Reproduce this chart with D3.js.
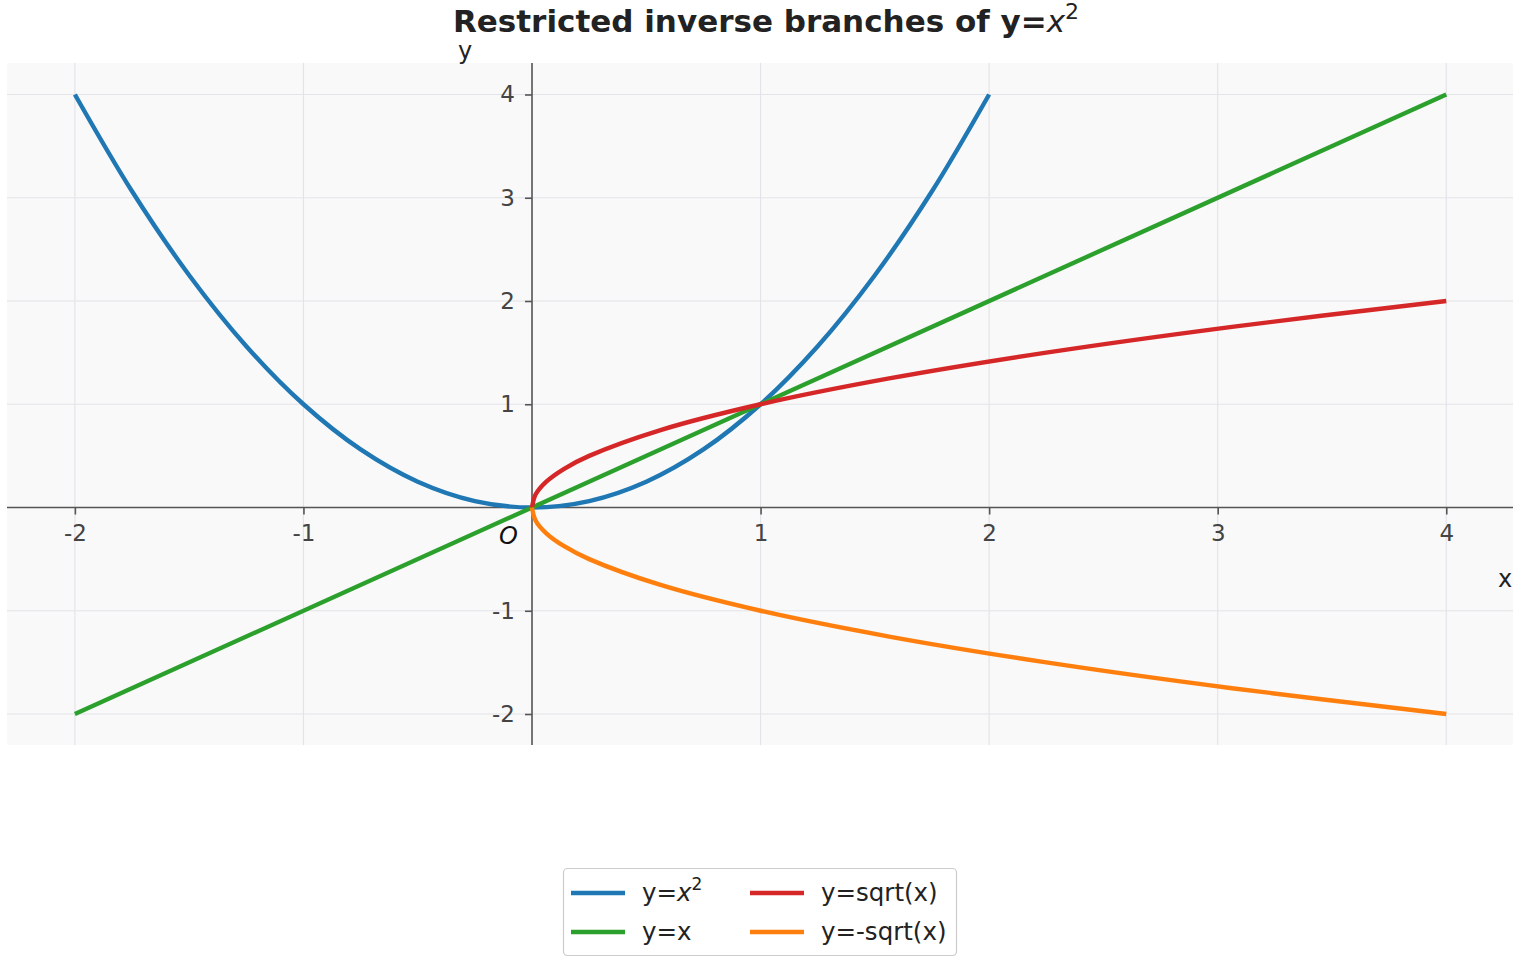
<!DOCTYPE html>
<html>
<head>
<meta charset="utf-8">
<script src="https://cdn.jsdelivr.net/npm/d3@7"></script>
<style>
  body { margin: 0; background: #fff; }
  text { font-family: "DejaVu Sans", sans-serif; }
</style>
</head>
<body>
<svg id="chart" width="1520" height="960"></svg>
<script>
// values
var xTicks = [-2, -1, 1, 2, 3, 4];
var yTicks = [-2, -1, 1, 2, 3, 4];

var parabolaX = [-2, -1.75, -1.5, -1.25, -1, -0.75, -0.5, -0.25, 0, 0.25, 0.5, 0.75, 1, 1.25, 1.5, 1.75, 2];
var parabolaY = [4, 3.0625, 2.25, 1.5625, 1, 0.5625, 0.25, 0.0625, 0, 0.0625, 0.25, 0.5625, 1, 1.5625, 2.25, 3.0625, 4];

var identityX = [-2, 4];
var identityY = [-2, 4];

var sqrtX = [0, 0.015625, 0.0625, 0.140625, 0.25, 0.5625, 1, 1.5625, 2.25, 3.0625, 4];
var sqrtY = [0, 0.125, 0.25, 0.375, 0.5, 0.75, 1, 1.25, 1.5, 1.75, 2];
var negSqrtY = [0, -0.125, -0.25, -0.375, -0.5, -0.75, -1, -1.25, -1.5, -1.75, -2];

var seriesColors = ["#1f77b4", "#2ca02c", "#d62728", "#ff7f0e"];
var legendLabels = [null, "y=x", "y=sqrt(x)", "y=-sqrt(x)"];

var svg = d3.select("#chart");

var plot = { left: 7, top: 63, right: 1513, bottom: 745 };

var xScale = d3.scaleLinear()
    .domain([-2.297, 4.292])
    .range([plot.left, plot.right]);

var yScale = d3.scaleLinear()
    .domain([-2.30, 4.305])
    .range([plot.bottom, plot.top]);

// background
svg.append("rect")
    .attr("x", plot.left).attr("y", plot.top)
    .attr("width", plot.right - plot.left)
    .attr("height", plot.bottom - plot.top)
    .attr("fill", "#f9f9f9");

// grid
var grid = svg.append("g").attr("class", "grid");
grid.selectAll("line.gx")
    .data(xTicks)
    .enter().append("line")
    .attr("x1", d => xScale(d)).attr("x2", d => xScale(d))
    .attr("y1", plot.top).attr("y2", plot.bottom)
    .attr("stroke", "#e3e4ea").attr("stroke-width", 1.2);
grid.selectAll("line.gy")
    .data(yTicks)
    .enter().append("line")
    .attr("y1", d => yScale(d)).attr("y2", d => yScale(d))
    .attr("x1", plot.left).attr("x2", plot.right)
    .attr("stroke", "#e3e4ea").attr("stroke-width", 1.2);

// axes through origin
var axisBottom = d3.axisBottom(xScale)
    .tickValues(xTicks)
    .tickSize(7)
    .tickPadding(9)
    .tickFormat(d => String(d));

var axisLeft = d3.axisLeft(yScale)
    .tickValues(yTicks)
    .tickSize(7)
    .tickPadding(10)
    .tickFormat(d => String(d));

var gx = svg.append("g")
    .attr("transform", `translate(0, ${yScale(0)})`)
    .call(axisBottom);
var gy = svg.append("g")
    .attr("transform", `translate(${xScale(0)}, 0)`)
    .call(axisLeft);

[gx, gy].forEach(function (g) {
    g.select(".domain").remove();
    g.selectAll(".tick line").attr("stroke", "#555").attr("stroke-width", 1.6);
    g.selectAll(".tick text")
        .attr("fill", "#444")
        .style("font-size", "23px")
        .style("font-family", "DejaVu Sans, sans-serif");
});
gx.selectAll(".tick text").attr("dy", "0.75em");

// full-length spines
svg.append("line")
    .attr("x1", plot.left).attr("x2", plot.right)
    .attr("y1", yScale(0)).attr("y2", yScale(0))
    .attr("stroke", "#555").attr("stroke-width", 1.6);
svg.append("line")
    .attr("x1", xScale(0)).attr("x2", xScale(0))
    .attr("y1", plot.top).attr("y2", plot.bottom)
    .attr("stroke", "#555").attr("stroke-width", 1.6);

// origin label
svg.append("text")
    .attr("x", xScale(0) - 14).attr("y", yScale(0) + 36)
    .attr("text-anchor", "end")
    .attr("font-style", "italic")
    .style("font-size", "24px")
    .attr("fill", "#111")
    .text("O");

// axis labels
svg.append("text")
    .attr("x", 1505).attr("y", 587)
    .attr("text-anchor", "middle")
    .style("font-size", "24px").attr("fill", "#222")
    .text("x");
svg.append("text")
    .attr("x", 465).attr("y", 59)
    .attr("text-anchor", "middle")
    .style("font-size", "24px").attr("fill", "#222")
    .text("y");

// curves
var line = d3.line()
    .x(d => xScale(d[0]))
    .y(d => yScale(d[1]))
    .curve(d3.curveCatmullRom.alpha(0.5));

var seriesData = [
    d3.zip(parabolaX, parabolaY),
    d3.zip(identityX, identityY),
    d3.zip(sqrtX, sqrtY),
    d3.zip(sqrtX, negSqrtY)
];

svg.append("g").selectAll("path")
    .data(seriesData)
    .enter().append("path")
    .attr("d", line)
    .attr("fill", "none")
    .attr("stroke", (d, i) => seriesColors[i])
    .attr("stroke-width", 4.4)
    .attr("stroke-linejoin", "round");

// title
var title = svg.append("text")
    .attr("x", 766).attr("y", 32)
    .attr("text-anchor", "middle")
    .style("font-size", "31px")
    .style("font-weight", "bold")
    .attr("fill", "#222");
title.append("tspan").text("Restricted inverse branches of y=");
title.append("tspan").attr("font-style", "italic").style("font-weight", "normal").text("x");
title.append("tspan").attr("dy", -13).style("font-size", "22px").style("font-weight", "normal").text("2");

// legend
var legend = svg.append("g");
legend.append("rect")
    .attr("x", 563.5).attr("y", 868.5)
    .attr("width", 393).attr("height", 87)
    .attr("rx", 4)
    .attr("fill", "#fff")
    .attr("stroke", "#ccc")
    .attr("stroke-width", 1.2);

var legendPos = [[571, 893], [571, 932], [750, 893], [750, 932]];

legendPos.forEach(function (p, i) {
    legend.append("line")
        .attr("x1", p[0]).attr("x2", p[0] + 54)
        .attr("y1", p[1]).attr("y2", p[1])
        .attr("stroke", seriesColors[i])
        .attr("stroke-width", 4.4);
    var t = legend.append("text")
        .attr("x", p[0] + 71).attr("y", p[1] + 8)
        .style("font-size", "24.5px")
        .attr("fill", "#222");
    if (i === 0) {
        t.append("tspan").text("y=");
        t.append("tspan").attr("font-style", "italic").text("x");
        t.append("tspan").attr("dy", -11).style("font-size", "17px").text("2");
    } else {
        t.text(legendLabels[i]);
    }
});
</script>
</body>
</html>
